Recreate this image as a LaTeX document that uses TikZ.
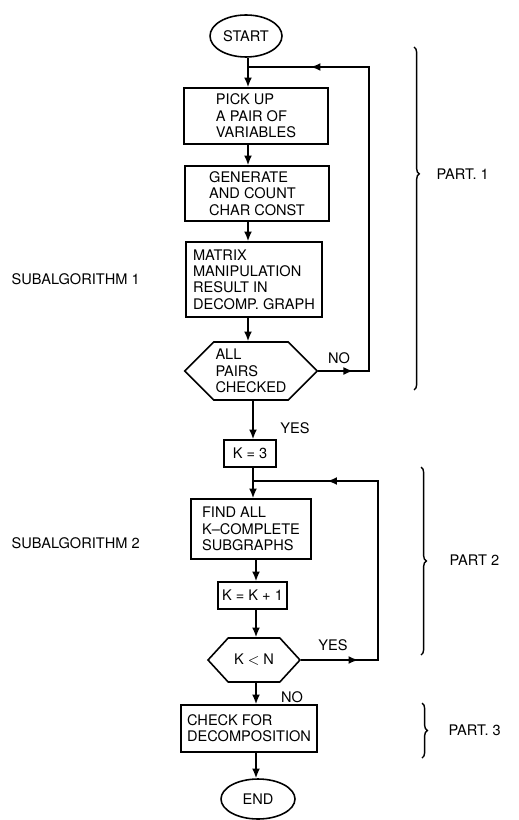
\documentclass[tikz,border=0pt]{standalone}
\usepackage{fontspec}
\setmainfont{TeX Gyre Heros}
\usetikzlibrary{shapes.geometric,shapes.symbols,arrows.meta,decorations.pathreplacing,decorations.markings}

\begin{document}
\begin{tikzpicture}[x=0.02cm, y=-0.02cm, line width=0.9pt,
    every node/.style={font=\fontsize{8.3}{9.3}\selectfont},
    term/.style={draw, ellipse, inner sep=0pt},
    proc/.style={draw, rectangle, align=left, inner sep=2pt},
    decide/.style={draw, signal, signal to=west and east, signal from=nowhere, signal pointer angle=90, align=left, inner sep=1pt},
    flow/.style={-{Latex[length=5.5pt,width=4.5pt]}},
    midarr/.style={postaction={decorate, decoration={markings, mark=at position #1 with {\arrow{Latex[length=5.5pt,width=4.5pt]}}}}},
    part/.style={decorate, decoration={brace, amplitude=3pt, aspect=#1}, line width=0.8pt},
    part/.default=0.5]
        \useasboundingbox (0,0) rectangle (519,820);

        % Flow chart column
        \node[term, minimum width=1.44cm, minimum height=0.84cm] (start) at (246,36) {START};
        \node[proc, minimum width=2.88cm, minimum height=1.12cm] (pick) at (256,116) {PICK UP\\A PAIR OF\\VARIABLES};
        \node[proc, minimum width=2.88cm, minimum height=1.1cm] (gen) at (257,193.5) {GENERATE\\AND COUNT\\CHAR CONST};
        \node[proc, minimum width=2.72cm, minimum height=1.5cm] (matrix) at (254,279.5) {MATRIX\\MANIPULATION\\RESULT IN\\DECOMP. GRAPH};
        \node[decide, minimum width=2.64cm, minimum height=1.16cm] (allpairs) at (251,371) {ALL\\PAIRS\\CHECKED};
        \node[proc, minimum width=1.04cm, minimum height=0.54cm] (kinit) at (250,453.5) {K = 3};
        \node[proc, minimum width=2.4cm, minimum height=1.2cm] (findall) at (251,529) {FIND ALL\\K--COMPLETE\\SUBGRAPHS};
        \node[proc, minimum width=1.38cm, minimum height=0.54cm] (kinc) at (252.5,595.5) {K = K + 1};
        \node[decide, signal pointer angle=95, minimum width=1.84cm, minimum height=0.88cm] (kless) at (254,660) {K \(<\) N};
        \node[proc, minimum width=2.72cm, minimum height=0.94cm] (check) at (249,728.5) {CHECK FOR\\DECOMPOSITION};
        \node[term, minimum width=1.48cm, minimum height=0.8cm] (finish) at (258,799) {END};

        \coordinate (colA) at (248,0);
        \coordinate (colB) at (253,0);
        \coordinate (colC) at (256,0);
        \coordinate (join1) at (248,67);
        \coordinate (back1) at (369,67);
        \coordinate (join2) at (253,481);
        \coordinate (back2) at (378,481);

        \draw[flow] (start.south -| colA) -- (pick.north -| colA);
        \draw[flow] (pick.south -| colA) -- (gen.north -| colA);
        \draw[flow] (gen.south -| colA) -- (matrix.north -| colA);
        \draw[flow] (matrix.south -| colA) -- (allpairs.north -| colA);
        \draw[flow] (allpairs.south -| colB) -- (kinit.north -| colB);
        \draw[flow] (kinit.south -| colB) -- (findall.north -| colB);
        \draw[flow] (findall.south -| colC) -- (kinc.north -| colC);
        \draw[flow] (kinc.south -| colC) -- (kless.north -| colC);
        \draw[flow] (kless.south -| colC) -- (check.north -| colC);
        \draw[flow] (check.south -| colC) -- (finish.north -| colC);

        % Loops back
        \draw[midarr=0.073, midarr=0.868] (allpairs.east) -| (back1) -- (join1);
        \draw[midarr=0.15, midarr=0.805] (kless.east) -| (back2) -- (join2);

        \node (no1) at (339,358) {NO};
        \node (yes1) at (295,428.5) {YES};
        \node (yes2) at (333,645) {YES};
        \node (no2) at (292,697.5) {NO};

        % Side labels
        \node[anchor=west] (sub1) at (5,279) {SUBALGORITHM 1};
        \node[anchor=west] (sub2) at (5,543) {SUBALGORITHM 2};

        \draw[part=0.37] (414,47) -- (414,390);
        \node[anchor=west] (part1) at (430,174) {PART. 1};
        \draw[part] (421,467) -- (421,655);
        \node[anchor=west] (part2) at (443,560) {PART 2};
        \draw[part] (422,703) -- (422,758);
        \node[anchor=west] (part3) at (442,730) {PART. 3};
    \end{tikzpicture}
\end{document}
